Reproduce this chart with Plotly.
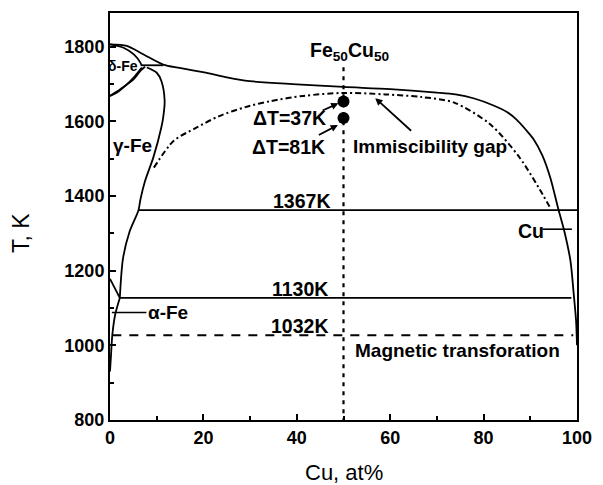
import plotly.graph_objects as go

# ---------------- data ----------------
# liquidus + Cu-rich solvus (continuous solid line)
liq_x = [0, 3.6, 7.2, 11.4, 14.9, 20.5, 28.9, 40, 50, 60, 70, 74, 78, 82, 85, 87, 89, 90.7, 92.6, 94.3, 96, 97.3, 98.6, 99.3, 99.8, 100]
liq_T = [1806, 1802, 1779, 1752, 1743, 1730, 1709, 1699, 1692, 1686, 1677, 1672, 1661, 1643, 1625, 1605, 1578, 1552, 1508, 1448, 1365, 1305, 1226, 1137, 1066, 1000]

# delta-Fe solidus
dsol_x = [0, 2.9, 5.1, 6.5, 6.8]
dsol_T = [1806, 1797, 1779, 1757, 1748]

# peritectic horizontal
peri_x = [6.8, 11.4]
peri_T = [1750, 1750]

# delta/gamma lens (two curves)
dgA_x = [0, 1.5, 3.6, 5.4, 6.8]
dgA_T = [1668, 1677, 1699, 1722, 1744]
dgB_x = [0, 2.2, 5.1, 6.5, 7.5]
dgB_T = [1668, 1686, 1713, 1735, 1746]

# gamma-Fe boundary
gam_x = [7.9, 10, 11, 11.7, 11.4, 11, 9.3, 7.5, 6.5, 6.1, 4.2, 2.8, 2.1]
gam_T = [1744, 1730, 1708, 1655, 1611, 1584, 1504, 1440, 1390, 1362, 1305, 1234, 1127]

# alpha-Fe boundaries
ag_x = [0, 2.1]
ag_T = [1178, 1127]
asol_x = [2.1, 1.1, 0.5, 0.2, 0]
asol_T = [1127, 1082, 1028, 970, 930]

# metastable immiscibility gap (dash-dot)
gap_x = [9.4, 13.6, 18.5, 23.4, 29, 34.4, 41.4, 50, 58.9, 66.7, 73.7, 81.4, 87.7, 92.6, 94.4]
gap_T = [1476, 1547, 1583, 1614, 1638, 1654, 1668, 1676, 1672, 1665, 1650, 1592, 1503, 1405, 1365]

# isotherms
iso1367_x = [6.1, 100]
iso1367_T = [1362, 1362]
iso1130_x = [2.1, 98.8]
iso1130_T = [1127, 1127]
mag_x = [0.5, 99.2]
mag_T = [1027, 1027]

# Fe50Cu50 composition line and undercooling points
comp_x = [50, 50]
comp_T = [1745, 800]
pts_x = [50, 50]
pts_T = [1653, 1609]

# pointer lines for labels
afe_x = [0.4, 7.8]
afe_T = [1088, 1088]
cu_x = [92.6, 98.9]
cu_T = [1311, 1311]

xticks = [0, 20, 40, 60, 80, 100]
yticks = [800, 1000, 1200, 1400, 1600, 1800]

FONT = "Liberation Sans, Arial, sans-serif"

fig = go.Figure()

def solid(x, y, w=1.8, shape="spline"):
    fig.add_trace(go.Scatter(x=x, y=y, mode="lines",
                             line=dict(color="black", width=w, shape=shape, smoothing=0.8),
                             showlegend=False, hoverinfo="skip"))

solid(liq_x, liq_T)
solid(dsol_x, dsol_T)
solid(peri_x, peri_T, shape="linear")
solid(dgA_x, dgA_T)
solid(dgB_x, dgB_T)
solid(gam_x, gam_T)
solid(ag_x, ag_T, shape="linear")
solid(asol_x, asol_T)
solid(iso1367_x, iso1367_T, shape="linear")
solid(iso1130_x, iso1130_T, shape="linear")
solid(afe_x, afe_T, w=1.6, shape="linear")
solid(cu_x, cu_T, w=1.6, shape="linear")

fig.add_trace(go.Scatter(x=gap_x, y=gap_T, mode="lines",
                         line=dict(color="black", width=2, dash="6px,3px,2px,3px", shape="spline", smoothing=0.8),
                         showlegend=False, hoverinfo="skip"))
fig.add_trace(go.Scatter(x=mag_x, y=mag_T, mode="lines",
                         line=dict(color="black", width=2, dash="9px,8px"),
                         showlegend=False, hoverinfo="skip"))
fig.add_trace(go.Scatter(x=comp_x, y=comp_T, mode="lines",
                         line=dict(color="black", width=2.2, dash="4px,5px"),
                         showlegend=False, hoverinfo="skip"))
fig.add_trace(go.Scatter(x=pts_x, y=pts_T, mode="markers",
                         marker=dict(color="black", size=12),
                         showlegend=False, hoverinfo="skip"))

def label(text, x, y, size=19.5, bold=True):
    fig.add_annotation(x=x, y=y, text=f"<b>{text}</b>" if bold else text, showarrow=False,
                       font=dict(family=FONT, size=size, color="black"),
                       xanchor="center", yanchor="middle")

label("Fe<sub>50</sub>Cu<sub>50</sub>", 51.4, 1788)
label("ΔT=37K", 38.4, 1610)
label("ΔT=81K", 38.2, 1532)
label("Immiscibility gap", 68.6, 1533, size=19)
label("1367K", 41.0, 1387)
label("1130K", 40.6, 1151)
label("1032K", 40.6, 1053)
label("Magnetic transforation", 74.5, 986, size=19)
label("Cu", 90.1, 1307)
label("α-Fe", 12.4, 1088, size=19)
label("γ-Fe", 4.8, 1534, size=19)
label("δ-Fe", 2.7, 1748, size=14)

def arrow(tx, ty, hx, hy, head=2):
    fig.add_annotation(x=hx, y=hy, ax=tx, ay=ty, xref="x", yref="y", axref="x", ayref="y",
                       text="", showarrow=True, arrowhead=head, arrowsize=0.8,
                       arrowwidth=1.8, arrowcolor="black")

arrow(45.2, 1627, 48.9, 1648)
arrow(44.4, 1561, 48.8, 1590)
arrow(64.8, 1571, 56.8, 1662)

# axis titles
fig.add_annotation(x=-0.19, y=0.46, xref="paper", yref="paper", text="T, K", textangle=-90,
                   showarrow=False, font=dict(family=FONT, size=23, color="black"),
                   xanchor="center", yanchor="middle")
fig.add_annotation(x=0.5, y=-0.128, xref="paper", yref="paper", text="Cu, at%",
                   showarrow=False, font=dict(family=FONT, size=22, color="black"),
                   xanchor="center", yanchor="middle")

axis_common = dict(showline=True, linewidth=2, linecolor="black", mirror=True,
                   ticks="inside", ticklen=6, tickwidth=2, tickcolor="black",
                   showgrid=False, zeroline=False,
                   tickfont=dict(family=FONT, size=18, color="black", weight="bold"))

fig.update_xaxes(range=[0, 100], tickvals=xticks,
                 minor=dict(dtick=10, ticks="inside", ticklen=4, tickwidth=2, tickcolor="black"),
                 **axis_common)
fig.update_yaxes(range=[800, 1890], tickvals=yticks,
                 minor=dict(dtick=100, ticks="inside", ticklen=4, tickwidth=2, tickcolor="black"),
                 **axis_common)

fig.update_layout(width=603, height=485,
                  margin=dict(l=110, r=18, t=11, b=65),
                  paper_bgcolor="white", plot_bgcolor="white",
                  showlegend=False)

fig.write_html("out.html")
